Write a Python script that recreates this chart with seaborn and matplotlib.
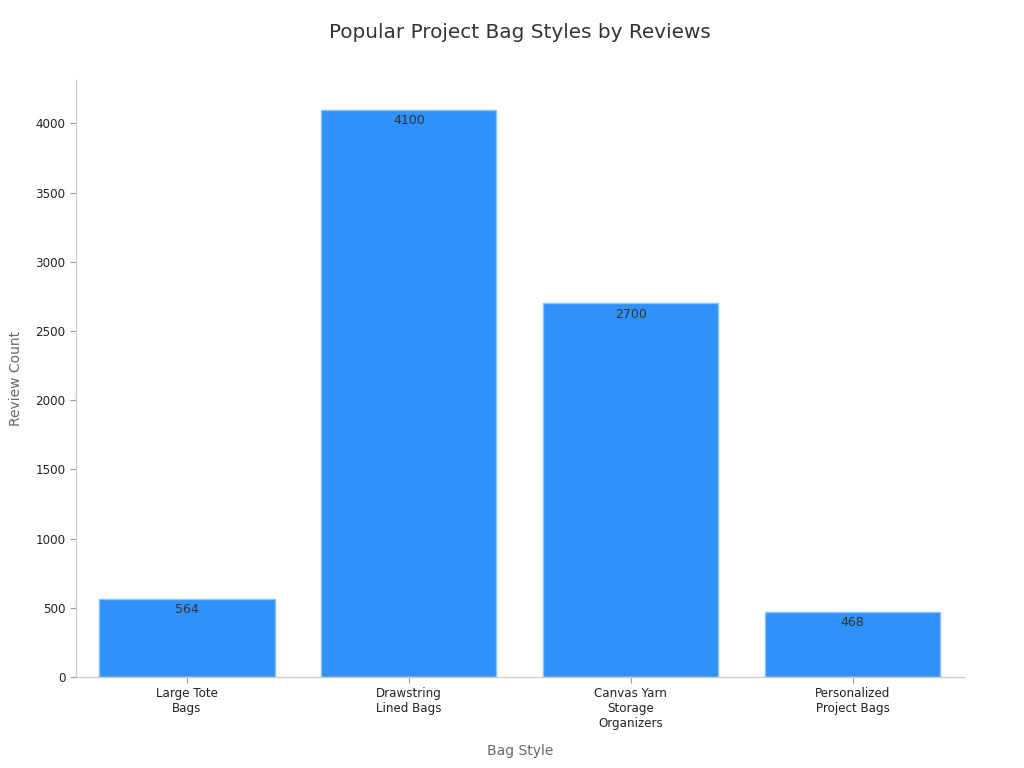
import pandas as pd
import seaborn as sns
import matplotlib.pyplot as plt

# dados
styles = ['Large Tote\nBags', 'Drawstring\nLined Bags', 'Canvas Yarn\nStorage\nOrganizers', 'Personalized\nProject Bags']
reviews = [564, 4100, 2700, 468]

df = pd.DataFrame({'style': styles, 'reviews': reviews})

sns.set_theme(style="white")
plt.rcParams['font.family'] = ['DejaVu Sans']

fig = plt.figure(figsize=(10.24, 7.68), dpi=100)
ax = fig.add_axes([0.0742, 0.1185, 0.8668, 0.7775])

sns.barplot(x='style', y='reviews', data=df, color='#2F91F9', saturation=1,
            width=0.79, edgecolor='#8CC0FA', linewidth=1, ax=ax)

# rótulos dentro das barras
for i, v in enumerate(reviews):
    ax.annotate(str(v), (i, v), xytext=(0, -3), textcoords='offset points',
                ha='center', va='top', fontsize=9, color='#333333')

ax.set_xlim(-0.5, 3.5)
ax.set_ylim(0, 4315)
ax.set_yticks(range(0, 4001, 500))

ax.set_title('Popular Project Bag Styles by Reviews', fontsize=14.4, color='#333333', pad=30)
ax.set_xlabel('Bag Style', fontsize=10, color='#666666', labelpad=10)
ax.set_ylabel('Review Count', fontsize=10, color='#666666', labelpad=9)

ax.tick_params(axis='both', labelsize=8.6, colors='#222222', length=4, width=0.8, bottom=True, left=True)
ax.tick_params(axis='both', color='#999999')
sns.despine(ax=ax)
for s in ['left', 'bottom']:
    ax.spines[s].set_color('#cccccc')
    ax.spines[s].set_linewidth(1)

plt.savefig('out.png', dpi=100)
